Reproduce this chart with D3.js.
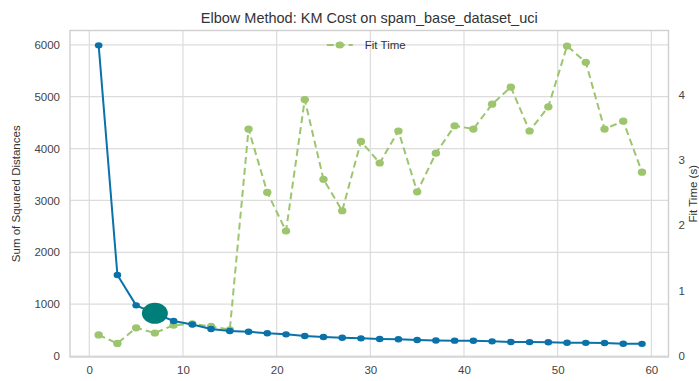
<!DOCTYPE html>
<html>
<head>
<meta charset="utf-8">
<script src="https://cdn.jsdelivr.net/npm/d3@7"></script>
<style>
  html, body { margin: 0; padding: 0; background: #fff; }
  svg { display: block; font-family: "Liberation Sans", Arial, sans-serif; }
</style>
</head>
<body>
<svg id="chart" width="699" height="381"></svg>
<script>
// Number of clusters tried (k = 1, 3, ..., 59)
const kValues = [1, 3, 5, 7, 9, 11, 13, 15, 17, 19, 21, 23, 25, 27, 29,
                 31, 33, 35, 37, 39, 41, 43, 45, 47, 49, 51, 53, 55, 57, 59];
// KMeans cost (sum of squared distances) for each k
const distortion = [5990, 1562, 977, 823, 675, 607, 520, 482, 468, 438,
                    418, 386, 366, 353, 341, 328, 322, 308, 299, 296,
                    293, 283, 270, 268, 266, 256, 254, 250, 237, 235];
// Fit time in seconds for each k
const fitTime = [0.32, 0.19, 0.43, 0.35, 0.47, 0.49, 0.45, 0.40, 3.47, 2.50,
                 1.91, 3.92, 2.70, 2.22, 3.28, 2.95, 3.44, 2.51, 3.10, 3.52,
                 3.47, 3.85, 4.11, 3.44, 3.81, 4.74, 4.49, 3.47, 3.59, 2.81];
// Elbow location
const elbowK = 7;
const elbowValue = 823;

const xTicks = [0, 10, 20, 30, 40, 50, 60];
const yLeftTicks = [0, 1000, 2000, 3000, 4000, 5000, 6000];
const yRightTicks = [0, 1, 2, 3, 4];

const titleText = "Elbow Method: KM Cost on spam_base_dataset_uci";
const yLeftLabel = "Sum of Squared Distances";
const yRightLabel = "Fit Time (s)";
const legendLabel = "Fit Time";

const svg = d3.select("#chart");
const plot = { left: 70, right: 668.5, top: 30.5, bottom: 357 };

const blue = "#0a72a8";
const green = "#9cc56e";
const teal = "#007f7a";
const gridColor = "#dcdcdc";
const textColor = "#444";

const x = d3.scaleLinear().domain([-2.06, 61.83]).range([plot.left, plot.right]);
const yL = d3.scaleLinear().domain([-19, 6276]).range([plot.bottom, plot.top]);
const yR = d3.scaleLinear().domain([-0.017, 4.977]).range([plot.bottom, plot.top]);

// grid
const grid = svg.append("g");
grid.selectAll("line.v").data(xTicks).join("line")
  .attr("x1", d => x(d)).attr("x2", d => x(d))
  .attr("y1", plot.top).attr("y2", plot.bottom)
  .attr("stroke", gridColor).attr("stroke-width", 1.2);
grid.selectAll("line.h").data(yLeftTicks).join("line")
  .attr("x1", plot.left).attr("x2", plot.right)
  .attr("y1", d => yL(d)).attr("y2", d => yL(d))
  .attr("stroke", gridColor).attr("stroke-width", 1.2);

// frame
svg.append("rect")
  .attr("x", plot.left).attr("y", plot.top)
  .attr("width", plot.right - plot.left).attr("height", plot.bottom - plot.top)
  .attr("fill", "none").attr("stroke", "#cfcfcf").attr("stroke-width", 1.4);

// axes (tick labels only, no tick marks)
const axB = d3.axisBottom(x).tickValues(xTicks).tickSize(0).tickPadding(9);
const axL = d3.axisLeft(yL).tickValues(yLeftTicks).tickSize(0).tickPadding(10).tickFormat(d3.format("d"));
const axR = d3.axisRight(yR).tickValues(yRightTicks).tickSize(0).tickPadding(10).tickFormat(d3.format("d"));

function styleAxis(g) {
  g.select(".domain").remove();
  g.selectAll("text").attr("fill", textColor).style("font-size", "11.5px")
    .style("font-family", "'Liberation Sans', Arial, sans-serif");
}
svg.append("g").attr("transform", `translate(0,${plot.bottom})`).call(axB).call(styleAxis);
svg.append("g").attr("transform", `translate(${plot.left},0)`).call(axL).call(styleAxis);
svg.append("g").attr("transform", `translate(${plot.right},0)`).call(axR).call(styleAxis);

// title and axis labels
svg.append("text").attr("x", (plot.left + plot.right) / 2).attr("y", 23)
  .attr("text-anchor", "middle").attr("fill", "#333").style("font-size", "14.5px")
  .text(titleText);
svg.append("text")
  .attr("transform", `translate(20,${(plot.top + plot.bottom) / 2}) rotate(-90)`)
  .attr("text-anchor", "middle").attr("fill", "#333").style("font-size", "11.5px")
  .text(yLeftLabel);
svg.append("text")
  .attr("transform", `translate(697,${(plot.top + plot.bottom) / 2}) rotate(-90)`)
  .attr("text-anchor", "middle").attr("fill", "#333").style("font-size", "11.5px")
  .text(yRightLabel);

const costData = kValues.map((k, i) => ({ k, v: distortion[i] }));
const timeData = kValues.map((k, i) => ({ k, v: fitTime[i] }));

// fit time (dashed, right axis)
svg.append("path").datum(timeData)
  .attr("fill", "none").attr("stroke", green).attr("stroke-width", 2)
  .attr("stroke-dasharray", "7,4")
  .attr("d", d3.line().x(d => x(d.k)).y(d => yR(d.v)));
svg.append("g").selectAll("ellipse").data(timeData).join("ellipse")
  .attr("cx", d => x(d.k)).attr("cy", d => yR(d.v))
  .attr("rx", 4.2).attr("ry", 3.6).attr("fill", green);

// cost (solid, left axis)
svg.append("path").datum(costData)
  .attr("fill", "none").attr("stroke", blue).attr("stroke-width", 2)
  .attr("d", d3.line().x(d => x(d.k)).y(d => yL(d.v)));
svg.append("g").selectAll("ellipse").data(costData).join("ellipse")
  .attr("cx", d => x(d.k)).attr("cy", d => yL(d.v))
  .attr("rx", 3.8).attr("ry", 3.2).attr("fill", blue);

// elbow marker
svg.append("ellipse")
  .attr("cx", x(elbowK)).attr("cy", yL(elbowValue))
  .attr("rx", 13).attr("ry", 10.5).attr("fill", teal);

// legend
const lg = svg.append("g").attr("transform", `translate(${x(25.35)},45)`);
lg.append("line").attr("x1", 0).attr("x2", 26).attr("y1", 0).attr("y2", 0)
  .attr("stroke", green).attr("stroke-width", 2).attr("stroke-dasharray", "7,4");
lg.append("ellipse").attr("cx", 13).attr("cy", 0).attr("rx", 4.2).attr("ry", 3.6).attr("fill", green);
lg.append("text").attr("x", 38).attr("y", 4).attr("fill", "#333").style("font-size", "11.5px")
  .text(legendLabel);
</script>
</body>
</html>
